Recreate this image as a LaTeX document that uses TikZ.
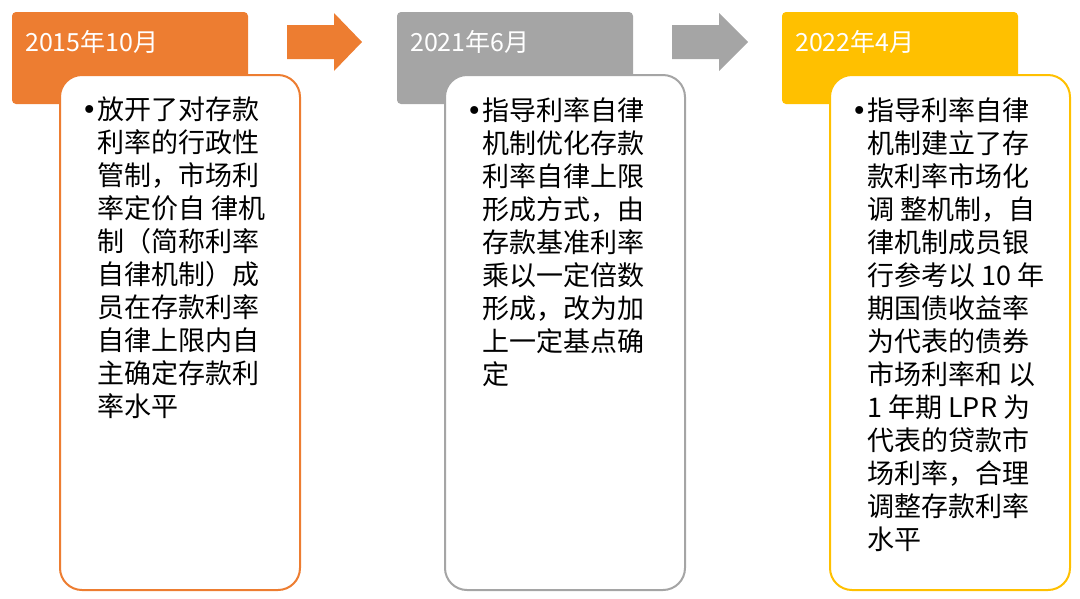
\documentclass[tikz,border=0pt]{standalone}
\usepackage{fontspec}
\setmainfont{Noto Sans CJK SC}
\newfontfamily\bulletfont{DejaVu Sans}
\definecolor{stepOrange}{HTML}{ED7D31}
\definecolor{stepGray}{HTML}{A5A5A5}
\definecolor{stepGold}{HTML}{FFC000}
\newcommand{\bul}{\llap{{\bulletfont •}}}
\tikzset{
  head/.style={fill=#1, draw=none, rounded corners=4pt},
  card/.style={draw=#1, line width=2pt, fill=white, rounded corners=22pt},
  datetext/.style={text=white, font=\fontsize{25}{30}\selectfont, anchor=west, inner sep=0pt},
  bodytext/.style={anchor=north west, align=left, inner sep=0pt, font=\fontsize{27}{33}\selectfont},
  flow/.style={fill=#1, draw=none}
}
\begin{document}
\begin{tikzpicture}[x=1pt,y=-1pt]
\useasboundingbox (0,0) rectangle (1080,598);
% orange stage
\fill[head=stepOrange] (12,12) rectangle (248,104);
\node[datetext] (d1) at (25,42) {2015年10月};
\draw[card=stepOrange] (60,75) rectangle (300,590);
\node[bodytext] (t1) at (97,97) {\bul{}放开了对存款\\利率的行政性\\管制，市场利\\率定价自 律机\\制（简称利率\\自律机制）成\\员在存款利率\\自律上限内自\\主确定存款利\\率水平};
\fill[flow=stepOrange] (287,25) -- (334,25) -- (334,13) -- (362,42) -- (334,71) -- (334,59) -- (287,59) -- cycle;
% gray stage
\fill[head=stepGray] (397,12) rectangle (633,104);
\node[datetext] (d2) at (410,42) {2021年6月};
\draw[card=stepGray] (445,75) rectangle (685,590);
\node[bodytext] (t2) at (482,97) {\bul{}指导利率自律\\机制优化存款\\利率自律上限\\形成方式，由\\存款基准利率\\乘以一定倍数\\形成，改为加\\上一定基点确\\定};
\fill[flow=stepGray] (672,25) -- (719,25) -- (719,13) -- (748,42) -- (719,71) -- (719,59) -- (672,59) -- cycle;
% gold stage
\fill[head=stepGold] (782,12) rectangle (1018,104);
\node[datetext] (d3) at (795,42) {2022年4月};
\draw[card=stepGold] (830,75) rectangle (1070,590);
\node[bodytext] (t3) at (867,97) {\bul{}指导利率自律\\机制建立了存\\款利率市场化\\调 整机制，自\\律机制成员银\\行参考以 10 年\\期国债收益率\\为代表的债券\\市场利率和 以\\1 年期 LPR 为\\代表的贷款市\\场利率，合理\\调整存款利率\\水平};
\end{tikzpicture}
\end{document}
